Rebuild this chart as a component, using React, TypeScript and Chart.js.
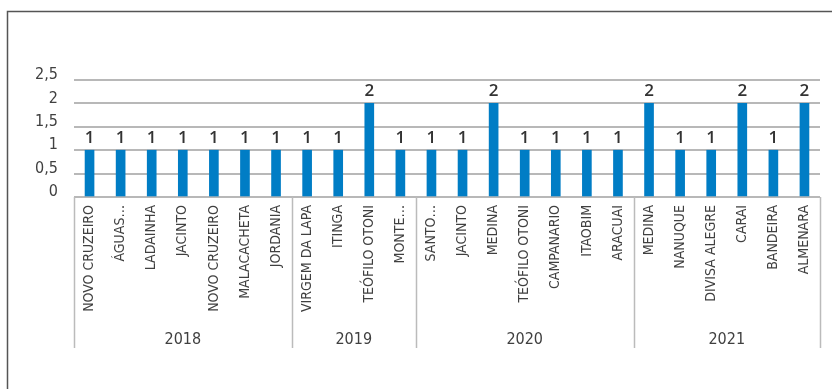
import React, { useEffect, useRef } from "react";
import { Chart, registerables } from "chart.js";

Chart.register(...registerables);

const categories = [
  "NOVO CRUZEIRO", "ÁGUAS…", "LADAINHA", "JACINTO", "NOVO CRUZEIRO", "MALACACHETA", "JORDANIA",
  "VIRGEM DA LAPA", "ITINGA", "TEÓFILO OTONI", "MONTE…",
  "SANTO…", "JACINTO", "MEDINA", "TEÓFILO OTONI", "CAMPANARIO", "ITAOBIM", "ARACUAI",
  "MEDINA", "NANUQUE", "DIVISA ALEGRE", "CARAI", "BANDEIRA", "ALMENARA",
];
const values = [
  1, 1, 1, 1, 1, 1, 1,
  1, 1, 2, 1,
  1, 1, 2, 1, 1, 1, 1,
  2, 1, 1, 2, 1, 2,
];
const years = ["2018", "2019", "2020", "2021"];
const groupSizes = [7, 4, 7, 6];
const yTicks = [0, 0.5, 1, 1.5, 2, 2.5];

const FONT = "'DejaVu Sans Condensed', 'Liberation Sans Narrow', sans-serif";
const LABEL_FONT = "'Open Sans', 'Noto Sans', sans-serif";
const TEXT = "#404040";

const decorPlugin = {
  id: "decor",
  beforeDraw(chart: any) {
    const ctx = chart.ctx;
    ctx.save();
    ctx.strokeStyle = "#555555";
    ctx.lineWidth = 1.5;
    ctx.beginPath();
    ctx.moveTo(7.5, 400);
    ctx.lineTo(7.5, 11.5);
    ctx.lineTo(840, 11.5);
    ctx.stroke();
    ctx.restore();
  },
  afterDraw(chart: any) {
    const ctx = chart.ctx;
    const x = chart.scales.x;
    const area = chart.chartArea;
    ctx.save();
    // data labels
    const meta = chart.getDatasetMeta(0);
    ctx.fillStyle = "#333333";
    ctx.font = `600 17px ${LABEL_FONT}`;
    ctx.textAlign = "center";
    ctx.textBaseline = "alphabetic";
    meta.data.forEach((bar: any, i: number) => {
      ctx.fillText(String(values[i]), bar.x, bar.y - 7);
    });
    // group separators and year labels
    const bottom = 348;
    const bounds: number[] = [area.left];
    let idx = 0;
    groupSizes.forEach((n, g) => {
      idx += n;
      if (g < groupSizes.length - 1) {
        bounds.push((x.getPixelForValue(idx - 1) + x.getPixelForValue(idx)) / 2);
      } else {
        bounds.push(area.right);
      }
    });
    ctx.strokeStyle = "#BBBBBB";
    ctx.lineWidth = 1.5;
    bounds.forEach((bx) => {
      ctx.beginPath();
      ctx.moveTo(Math.round(bx) + 0.5, area.bottom);
      ctx.lineTo(Math.round(bx) + 0.5, bottom);
      ctx.stroke();
    });
    ctx.fillStyle = TEXT;
    ctx.font = `16px ${FONT}`;
    ctx.textBaseline = "middle";
    years.forEach((yr, g) => {
      ctx.fillText(yr, (bounds[g] + bounds[g + 1]) / 2, 340);
    });
    ctx.restore();
  },
};

export default function App() {
  const ref = useRef<HTMLCanvasElement | null>(null);
  useEffect(() => {
    if (!ref.current) return;
    const chart = new Chart(ref.current, {
      type: "bar",
      data: {
        labels: categories,
        datasets: [
          {
            data: values,
            backgroundColor: "#007DC5",
            barThickness: 9,
          },
        ],
      },
      options: {
        animation: false,
        responsive: false,
        maintainAspectRatio: false,
        layout: { padding: { left: 0, top: 80, right: 12, bottom: 0 } },
        plugins: { legend: { display: false }, tooltip: { enabled: false } },
        scales: {
          x: {
            grid: { display: false, drawTicks: false },
            border: { display: false },
            ticks: {
              autoSkip: false,
              minRotation: 90,
              maxRotation: 90,
              padding: 8,
              color: TEXT,
              font: { family: FONT, size: 14 },
            },
            afterFit(scale: any) {
              scale.height = 192;
            },
          },
          y: {
            min: 0,
            max: 2.5,
            afterBuildTicks(scale: any) {
              scale.ticks = yTicks.map((v) => ({ value: v }));
            },
            grid: { color: "#B8B8B8", lineWidth: 2, drawTicks: false },
            border: { display: false },
            ticks: {
              padding: 16,
              labelOffset: -5,
              color: TEXT,
              font: { family: FONT, size: 16 },
              callback: (v: any) => String(v).replace(".", ","),
            },
            afterFit(scale: any) {
              scale.width = 74;
            },
          },
        },
      },
      plugins: [decorPlugin],
    });
    return () => chart.destroy();
  }, []);
  return (
    <div style={{ position: "absolute", left: 0, top: 0, width: 832, height: 389, background: "#fff" }}>
      <canvas ref={ref} width={832} height={389} style={{ display: "block" }} />
    </div>
  );
}
